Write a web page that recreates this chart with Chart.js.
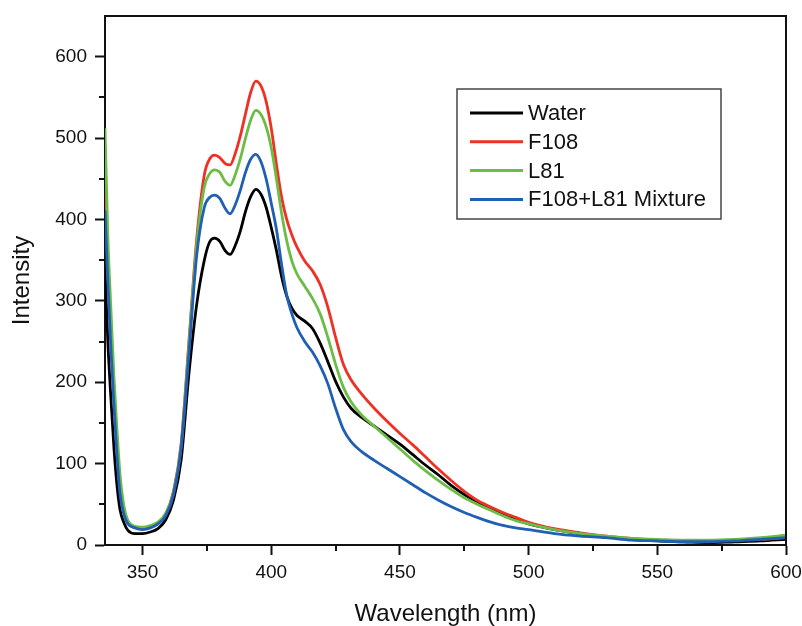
<!DOCTYPE html>
<html>
<head>
<meta charset="utf-8">
<script src="https://cdn.jsdelivr.net/npm/chart.js@4.4.1/dist/chart.umd.min.js"></script>
<style>
  html, body { margin: 0; padding: 0; background: #fff; }
  canvas { display: block; }
</style>
</head>
<body>
<canvas id="myChart" width="802" height="626"></canvas>
<script>
// wavelength (nm) sampled along the spectra
const wavelength = [335.4, 336.5, 337.7, 338.9, 340.1, 341.2, 342.8, 344.3, 347,
  350, 353, 356, 359, 362, 365, 368, 371, 374,
  376, 378, 380, 382, 384, 386, 388, 390, 392, 394,
  396, 398, 400, 402, 404, 406, 408, 410,
  413, 416, 419, 422, 425, 428, 431, 435,
  440, 445, 450, 455, 460, 465, 470, 475, 480, 485, 490, 495, 500,
  510, 520, 530, 540, 550, 560, 570, 580, 590, 600];

const water = [340, 250, 180, 118, 72, 44, 27, 18, 14,
  14, 16, 20, 31, 55, 105, 210, 295, 350,
  372, 377, 373, 362, 357, 368, 386, 410, 428, 437,
  431, 415, 390, 362, 330, 306, 291, 282,
  275, 266, 248, 225, 201, 182, 168, 157,
  146, 135, 124, 111, 98, 86, 73, 62, 53, 45, 37, 31, 26,
  19, 14, 10, 7, 5, 4, 3, 4, 5, 7];

const f108 = [441, 350, 265, 188, 122, 74, 41, 28, 22,
  21, 23, 27, 38, 66, 125, 250, 375, 455,
  474, 479, 476, 469, 467, 481, 503, 530, 556, 570,
  564, 545, 512, 468, 428, 400, 381, 366,
  349, 337, 320, 292, 255, 222, 203, 186,
  168, 152, 137, 123, 108, 93, 79, 66, 55, 47, 40, 34, 28,
  20, 15, 11, 8, 6, 5, 5, 6, 7, 9];

const l81 = [512, 380, 290, 205, 140, 88, 47, 30, 23,
  22, 24, 28, 39, 64, 122, 245, 368, 440,
  456, 461, 458, 447, 442, 455, 475, 500, 522, 534,
  529, 514, 488, 450, 408, 374, 349, 333,
  318, 303, 284, 255, 222, 194, 176, 160,
  146, 132, 118, 104, 91, 79, 68, 58, 50, 43, 36, 30, 26,
  19, 14, 11, 8, 7, 6, 6, 7, 9, 12];

const mixture = [411, 325, 240, 170, 108, 64, 37, 26, 21,
  19, 21, 26, 36, 62, 120, 235, 355, 415,
  427, 430, 426, 414, 407, 418, 436, 458, 474, 480,
  471, 450, 420, 388, 345, 307, 284, 267,
  250, 237, 220, 198, 168, 142, 127, 115,
  104, 94, 84, 74, 64, 55, 47, 40, 34, 28.5, 24, 21, 19,
  14, 11, 9, 6, 5, 4, 4, 5, 7, 9];

const seriesNames = ["Water", "F108", "L81", "F108+L81 Mixture"];
const seriesValues = [water, f108, l81, mixture];
const seriesColors = ["#000000", "#ee3124", "#6cbd45", "#1f5fb4"];

const xTicks = [350, 400, 450, 500, 550, 600];
const xMinor = [375, 425, 475, 525, 575];
const yTicks = [0, 100, 200, 300, 400, 500, 600];
const yMinor = [50, 150, 250, 350, 450, 550];

Chart.defaults.font.family = "'Liberation Sans', Arial, sans-serif";
Chart.defaults.color = "#111";

// minor ticks, box frame and the legend box
const decorations = {
  id: 'decorations',
  afterDraw(chart) {
    const ctx = chart.ctx;
    const area = chart.chartArea;
    const xs = chart.scales.x, ys = chart.scales.y;

    ctx.save();
    ctx.strokeStyle = '#111';
    ctx.lineWidth = 2;
    ctx.beginPath();
    ctx.moveTo(area.left - 1, area.top);
    ctx.lineTo(area.right, area.top);
    ctx.lineTo(area.right, area.bottom);
    ctx.stroke();

    ctx.beginPath();
    xMinor.forEach(v => {
      let px = Math.round(xs.getPixelForValue(v));
      ctx.moveTo(px, area.bottom);
      ctx.lineTo(px, area.bottom + 6);
    });
    yMinor.forEach(v => {
      let py = Math.round(ys.getPixelForValue(v));
      ctx.moveTo(area.left, py);
      ctx.lineTo(area.left - 6, py);
    });
    ctx.stroke();

    // legend
    ctx.strokeStyle = '#444';
    ctx.lineWidth = 1.5;
    ctx.strokeRect(457, 89, 264, 130);
    ctx.font = "22px 'Liberation Sans', Arial, sans-serif";
    ctx.textBaseline = 'middle';
    ctx.fillStyle = '#111';
    seriesNames.forEach((name, i) => {
      let y = 113 + i * 28.8;
      ctx.strokeStyle = seriesColors[i];
      ctx.lineWidth = 3;
      ctx.beginPath();
      ctx.moveTo(470, y);
      ctx.lineTo(523, y);
      ctx.stroke();
      ctx.fillText(name, 528, y + 1);
    });
    ctx.restore();
  }
};

const datasets = seriesNames.map((name, i) => ({
  label: name,
  data: wavelength.map((w, j) => ({ x: w, y: seriesValues[i][j] })),
  borderColor: seriesColors[i],
  borderWidth: 2.8,
  pointRadius: 0,
  fill: false,
  cubicInterpolationMode: 'monotone',
  order: seriesNames.length - i
}));

new Chart(document.getElementById('myChart'), {
  type: 'line',
  data: { datasets: datasets },
  options: {
    responsive: false,
    animation: false,
    layout: { padding: { left: 0, top: 16, right: 16, bottom: 0 } },
    plugins: {
      legend: { display: false },
      tooltip: { enabled: false }
    },
    scales: {
      x: {
        type: 'linear',
        min: 335.4,
        max: 600,
        afterBuildTicks: s => { s.ticks = xTicks.map(v => ({ value: v })); },
        afterFit: s => { s.height = 81; s.paddingLeft = 0; s.paddingRight = 0; },
        ticks: { font: { size: 19 }, padding: 6, maxRotation: 0, color: '#111' },
        grid: { drawOnChartArea: false, drawTicks: true, tickLength: 10, tickWidth: 2, tickColor: '#111' },
        border: { display: true, color: '#111', width: 2 },
        title: {
          display: true,
          text: 'Wavelength (nm)',
          font: { size: 24, lineHeight: 1 },
          padding: { top: 0, bottom: 0 },
          color: '#111'
        }
      },
      y: {
        type: 'linear',
        min: 0,
        max: 650,
        afterBuildTicks: s => { s.ticks = yTicks.map(v => ({ value: v })); },
        afterFit: s => { s.width = 105; s.paddingTop = 0; s.paddingBottom = 0; },
        ticks: { font: { size: 19 }, padding: 8, color: '#111' },
        grid: { drawOnChartArea: false, drawTicks: true, tickLength: 10, tickWidth: 2, tickColor: '#111' },
        border: { display: true, color: '#111', width: 2 },
        title: {
          display: true,
          text: 'Intensity',
          font: { size: 24, lineHeight: 1.2 },
          padding: { top: 8, bottom: 0 },
          color: '#111'
        }
      }
    }
  },
  plugins: [decorations]
});
</script>
</body>
</html>
